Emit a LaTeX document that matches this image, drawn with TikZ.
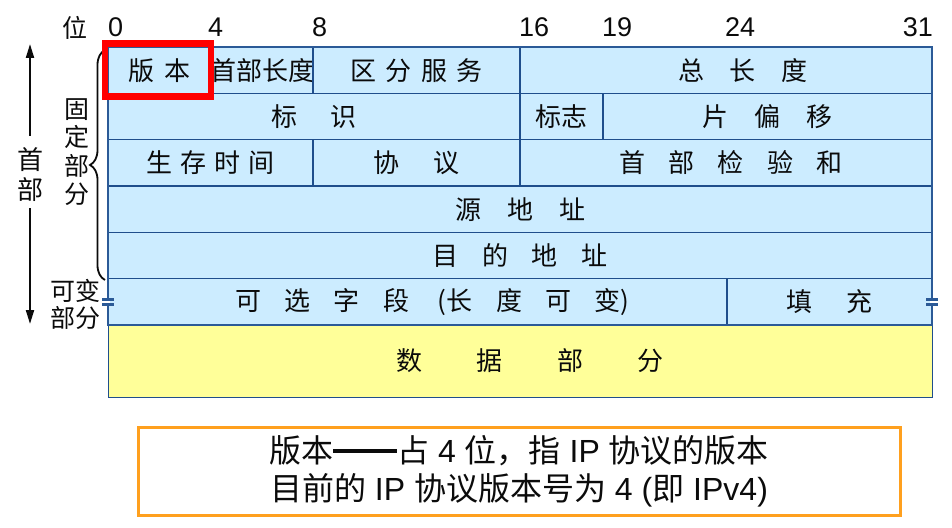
\documentclass[tikz,border=0pt]{standalone}
\usepackage{fontspec}
\setmainfont{Liberation Sans}
\newfontfamily\cjk{Noto Sans CJK SC}
\usepackage{tikz}
\usetikzlibrary{arrows.meta,decorations.pathreplacing}
\definecolor{cielo}{HTML}{CCECFF}
\definecolor{crema}{HTML}{FFFF99}
\definecolor{azulmarco}{HTML}{2B5A97}
\definecolor{azullinea}{HTML}{1F4E8C}
\definecolor{rojo}{HTML}{FF0000}
\definecolor{naranja}{HTML}{FFA01E}
\definecolor{tinta}{HTML}{0B0B0B}
\newcommand{\esp}[1]{\hspace{#1em}}
\newcommand{\raya}{\rule[0.3em]{2em}{0.12em}}
\tikzset{
  campo/.style={rectangle,draw=azullinea,line width=1.2pt,fill=cielo,inner sep=0pt,minimum height=46.33pt,font=\cjk\fontsize{26}{30}\selectfont,text=tinta},
  datos/.style={rectangle,draw=azullinea,line width=0.8pt,fill=crema,inner sep=0pt,minimum width=824pt,minimum height=72pt,font=\cjk\fontsize{26}{30}\selectfont,text=tinta},
  bitnum/.style={inner sep=0pt,font=\fontsize{27}{30}\selectfont,text=tinta},
  rotulo/.style={inner sep=0pt,align=center,text=tinta,font=\cjk\fontsize{25}{28.5}\selectfont},
  marco/.style={draw=azulmarco,line width=2.8pt},
  resalte/.style={draw=rojo,line width=6.5pt},
  flecha/.style={-{Triangle[length=14pt,width=8pt]},line width=2pt,draw=tinta},
  llave/.style={decorate,decoration={brace,amplitude=15pt},line width=1.8pt,draw=tinta},
  nota/.style={rectangle,draw=naranja,line width=3pt,minimum width=762pt,minimum height=88pt,inner sep=0pt,align=center,text=tinta,font=\fontsize{32}{38}\selectfont},
}

\begin{document}
\begin{tikzpicture}[x=1pt,y=-1pt]
  \useasboundingbox (0,0) rectangle (952,527);
  % numeros de bit
  \node[rotulo] (wei) at (75,27.5) {位};
  \foreach \b/\px in {0/108,4/208,8/312,16/519,19/602,24/725}
    \node[bitnum,anchor=west] (b\b) at (\px,27.5) {\b};
  \node[bitnum,anchor=east] (b31) at (933,27.5) {31};
  % campos de la cabecera
  \node[campo,minimum width=103pt] (ver) at (159.5,70.2) {版\esp{.4}本};
  \node[campo,minimum width=102pt] (hlen) at (262,70.2) {首部长度};
  \node[campo,minimum width=207pt] (tos) at (416.5,70.2) {区\esp{.35}分\esp{.35}服\esp{.35}务};
  \node[campo,minimum width=412pt] (tlen) at (726,70.2) {\hspace{34pt}总\esp{1}长\esp{1}度};
  \node[campo,minimum width=412pt] (ident) at (314,116.5) {标\esp{1.3}识};
  \node[campo,minimum width=83pt] (flag) at (561.5,116.5) {标志};
  \node[campo,minimum width=329pt] (frag) at (767.5,116.5) {片\esp{1}偏\esp{1}移};
  \node[campo,minimum width=205pt] (ttl) at (210.5,162.8) {生\esp{.3}存\esp{.3}时\esp{.3}间};
  \node[campo,minimum width=207pt] (proto) at (416.5,162.8) {协\esp{1.3}议};
  \node[campo,minimum width=412pt] (csum) at (726,162.8) {\hspace{10pt}首\esp{.9}部\esp{.9}检\esp{.9}验\esp{.9}和};
  \node[campo,minimum width=824pt] (src) at (520,209.2) {源\esp{1}地\esp{1}址};
  \node[campo,minimum width=824pt] (dst) at (520,255.5) {目\esp{.9}的\esp{.9}地\esp{.9}址};
  \node[campo,minimum width=619pt] (opt) at (417.5,301.8) {\hspace{30pt}可\esp{.9}选\esp{.9}字\esp{.9}段\esp{1.1}(长\esp{.9}度\esp{.9}可\esp{.9}变)};
  \node[campo,minimum width=205pt] (pad) at (829.5,301.8) {填\esp{1.3}充};
  \node[datos] (data) at (520,361) {\hspace{20pt}数\esp{2.1}据\esp{2.1}部\esp{2.1}分};
  \draw[marco] (108,47) rectangle (932,325);
  % marcas de corte
  \foreach \px in {108,932} {
    \fill[white] (\px-2,300.6) rectangle (\px+2,302.6);
    \draw[azulmarco,line width=3pt] (\px-6,299) -- (\px+6,299);
    \draw[azulmarco,line width=3pt] (\px-6,304.2) -- (\px+6,304.2);
  }
  % llave y rotulos laterales
  \coordinate (llinf) at (105,280);
  \coordinate (llsup) at (105,50);
  \draw[llave] (llinf) -- (llsup);
  \node[rotulo] (fijo) at (77,152) {固\\定\\部\\分};
  \node[rotulo,font=\cjk\fontsize{25}{27}\selectfont] (variable) at (75,304) {可变\\部分};
  \node[rotulo,font=\cjk\fontsize{26}{30}\selectfont] (cabecera) at (30,175) {首\\部};
  \coordinate (arriba) at (30,44);
  \coordinate (abajo) at (30,324);
  \draw[flecha,shorten <=12pt] (cabecera.north) -- (arriba);
  \draw[flecha,shorten <=6pt] (cabecera.south) -- (abajo);
  \draw[resalte] (105,43.7) rectangle (211,96.5);
  % nota
  \node[nota] (nota) at (519,471) {{\cjk 版本\raya 占} 4 {\cjk 位，指} IP {\cjk 协议的版本}\\{\cjk 目前的} IP {\cjk 协议版本号为} 4 ({\cjk 即} IPv4)};
\end{tikzpicture}
\end{document}
